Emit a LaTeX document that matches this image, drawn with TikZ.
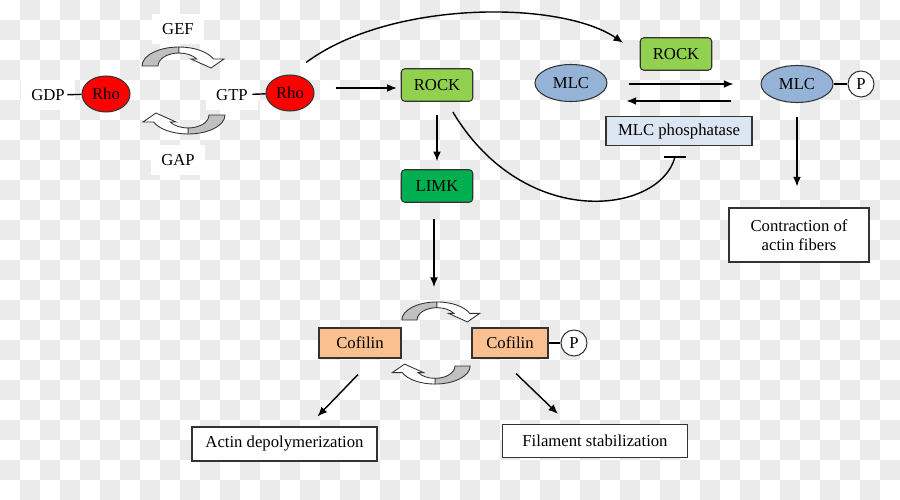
\documentclass[tikz,border=0pt]{standalone}
\usepackage{fontspec}
\setmainfont{Liberation Serif}
\usepackage{tikz}
\usetikzlibrary{shapes.geometric, arrows.meta}

\definecolor{bgsq}{RGB}{235,235,235}
\definecolor{rhored}{RGB}{255,0,0}
\definecolor{rockgreen}{RGB}{146,208,80}
\definecolor{limkgreen}{RGB}{0,176,80}
\definecolor{mlcblue}{RGB}{149,179,215}
\definecolor{phosblue}{RGB}{220,230,242}
\definecolor{cofpeach}{RGB}{250,192,144}
\definecolor{cycgray}{RGB}{192,192,192}

\begin{document}
\begin{tikzpicture}[x=0.02cm, y=-0.02cm, line width=0.8pt,
	every node/.style={font=\fontsize{9.5}{11}\selectfont, inner sep=0pt},
	every edge/.style={draw=black, line width=0.8pt},
	arr/.style={-{Latex[length=5.5pt, width=4.5pt]}},
	lbl/.style={fill=white, inner xsep=0.2cm, inner ysep=0.18cm},
	rho/.style={ellipse, draw=black!80, fill=rhored, line width=0.6pt, minimum width=0.96cm, minimum height=0.72cm},
	rock/.style={rectangle, rounded corners=2pt, draw=black!80, fill=rockgreen, line width=0.6pt, minimum width=1.43cm, minimum height=0.65cm},
	mlc/.style={ellipse, draw=black!80, fill=mlcblue, line width=0.6pt, minimum width=1.44cm, minimum height=0.74cm},
	pcirc/.style={circle, draw=black!80, fill=white, line width=0.6pt, minimum size=0.52cm},
	outbox/.style={rectangle, draw=black!80, fill=white, line width=0.6pt},
	cof/.style={rectangle, draw=black!80, fill=cofpeach, line width=0.6pt, minimum height=0.6cm},
	cycarrow/.pic={
		\filldraw[fill=cycgray, draw=black!80, line width=0.5pt] (-37,0) arc[start angle=180, end angle=270, x radius=37, y radius=19] -- (0,-13) arc[start angle=270, end angle=180, x radius=21, y radius=13] -- cycle;
		\filldraw[fill=white, draw=black!80, line width=0.5pt] (0,-19) arc[start angle=270, end angle=338.4, x radius=37, y radius=19] -- (45,-7) -- (32,2) -- (12,-7) -- (17.7,-7) arc[start angle=327.4, end angle=270, x radius=21, y radius=13] -- cycle;
	}]
					\useasboundingbox (0,0) rectangle (900,500);
					
					% checkered backdrop
					\begin{scope}
					\clip (0,0) rectangle (900,500);
					\foreach \j in {0,...,24}{
						\pgfmathtruncatemacro\st{mod(\j+1,2)}
						\foreach \i in {0,2,...,44}
							\fill[bgsq] ({(\i+\st)*20},{\j*20}) rectangle ++(20,20);
					}
					\end{scope}
					
					% Rho cycle
					\node[lbl] (gdp) at (48,95){GDP};
					\node[rho] (rho1) at (106,94){Rho};
					\node[lbl] (gef) at (178,29){GEF};
					\node[lbl] (gap) at (178,160){GAP};
					\node[lbl] (gtp) at (232,95){GTP};
					\node[rho] (rho2) at (290,93){Rho};
					
					\path (gdp) edge[shorten <=-0.16cm] (rho1);
					\path (gtp) edge[shorten <=-0.12cm] (rho2);
					
					\pic at (179,66) {cycarrow};
					\pic[rotate=180] at (188,115) {cycarrow};
					
					% ROCK branch
					\node[rock] (rock1) at (437,85){ROCK};
					\node[rock, fill=limkgreen] (limk) at (437,186){LIMK};
					
					\path ([shift={(21,-5)}]rho2.east) edge[arr] ([shift={(-4,3)}]rock1.west);
					\path (rock1) edge[arr, shorten <=0.26cm, shorten >=0.16cm] (limk);
					
					% MLC branch
					\node[rock] (rock2) at (676,54){ROCK};
					\node[mlc] (mlc1) at (571,83){MLC};
					\node[mlc] (mlc2) at (797,84){MLC};
					\node[pcirc] (p1) at (861,84){P};
					\node[rectangle, draw=black!80, fill=phosblue, line width=0.6pt, minimum width=2.92cm, minimum height=0.58cm] (phos) at (679,131){MLC phosphatase};
					\node[outbox, minimum width=2.8cm, minimum height=1.08cm, align=center] (contr) at (799,235){Contraction of\\actin fibers};
					
					\draw[arr, shorten <=0.4cm, shorten >=0.4cm] (rho2.north) .. controls (390,0) and (560,0) .. (rock2.west);
					\path ([shift={(21,1)}]mlc1.east) edge[arr] ([shift={(-27,0)}]mlc2.west);
					\path ([shift={(-29,17)}]mlc2.west) edge[arr] ([shift={(19,18)}]mlc1.east);
					\path (mlc2) edge (p1);
					\path ([shift={(0,14)}]mlc2.south) edge[arr] ([shift={(-2,-21)}]contr.north);
					
					\coordinate (blk) at (675,157);
					\draw[shorten <=0.24cm] (rock1.-60) .. controls (525,232) and (660,214) .. (blk);
					\draw ([xshift=-0.22cm]blk) -- ([xshift=0.22cm]blk);
					
					% Cofilin
					\coordinate (cyctop) at (434,287);
					\node[cof, minimum width=1.64cm] (cof1) at (360,343){Cofilin};
					\node[cof, minimum width=1.52cm] (cof2) at (510,343){Cofilin};
					\node[pcirc] (p2) at (574,343){P};
					\node[outbox, minimum width=3.7cm, minimum height=0.68cm] (actin) at (284.5,444){Actin depolymerization};
					\node[outbox, minimum width=3.7cm, minimum height=0.66cm] (fil) at (595,441){Filament stabilization};
					
					\path ([shift={(-3,16)}]limk.south) edge[arr] (cyctop);
					\pic[scale=0.95] at (437,320) {cycarrow};
					\pic[scale=0.95, rotate=180] at (435,366) {cycarrow};
					\path (cof2) edge (p2);
					\path ([shift={(-2,16)}]cof1.south) edge[arr] ([shift={(33,-10)}]actin.north);
					\path ([shift={(6,15)}]cof2.south) edge[arr] ([shift={(-37,-10)}]fil.north);
\end{tikzpicture}
\end{document}
